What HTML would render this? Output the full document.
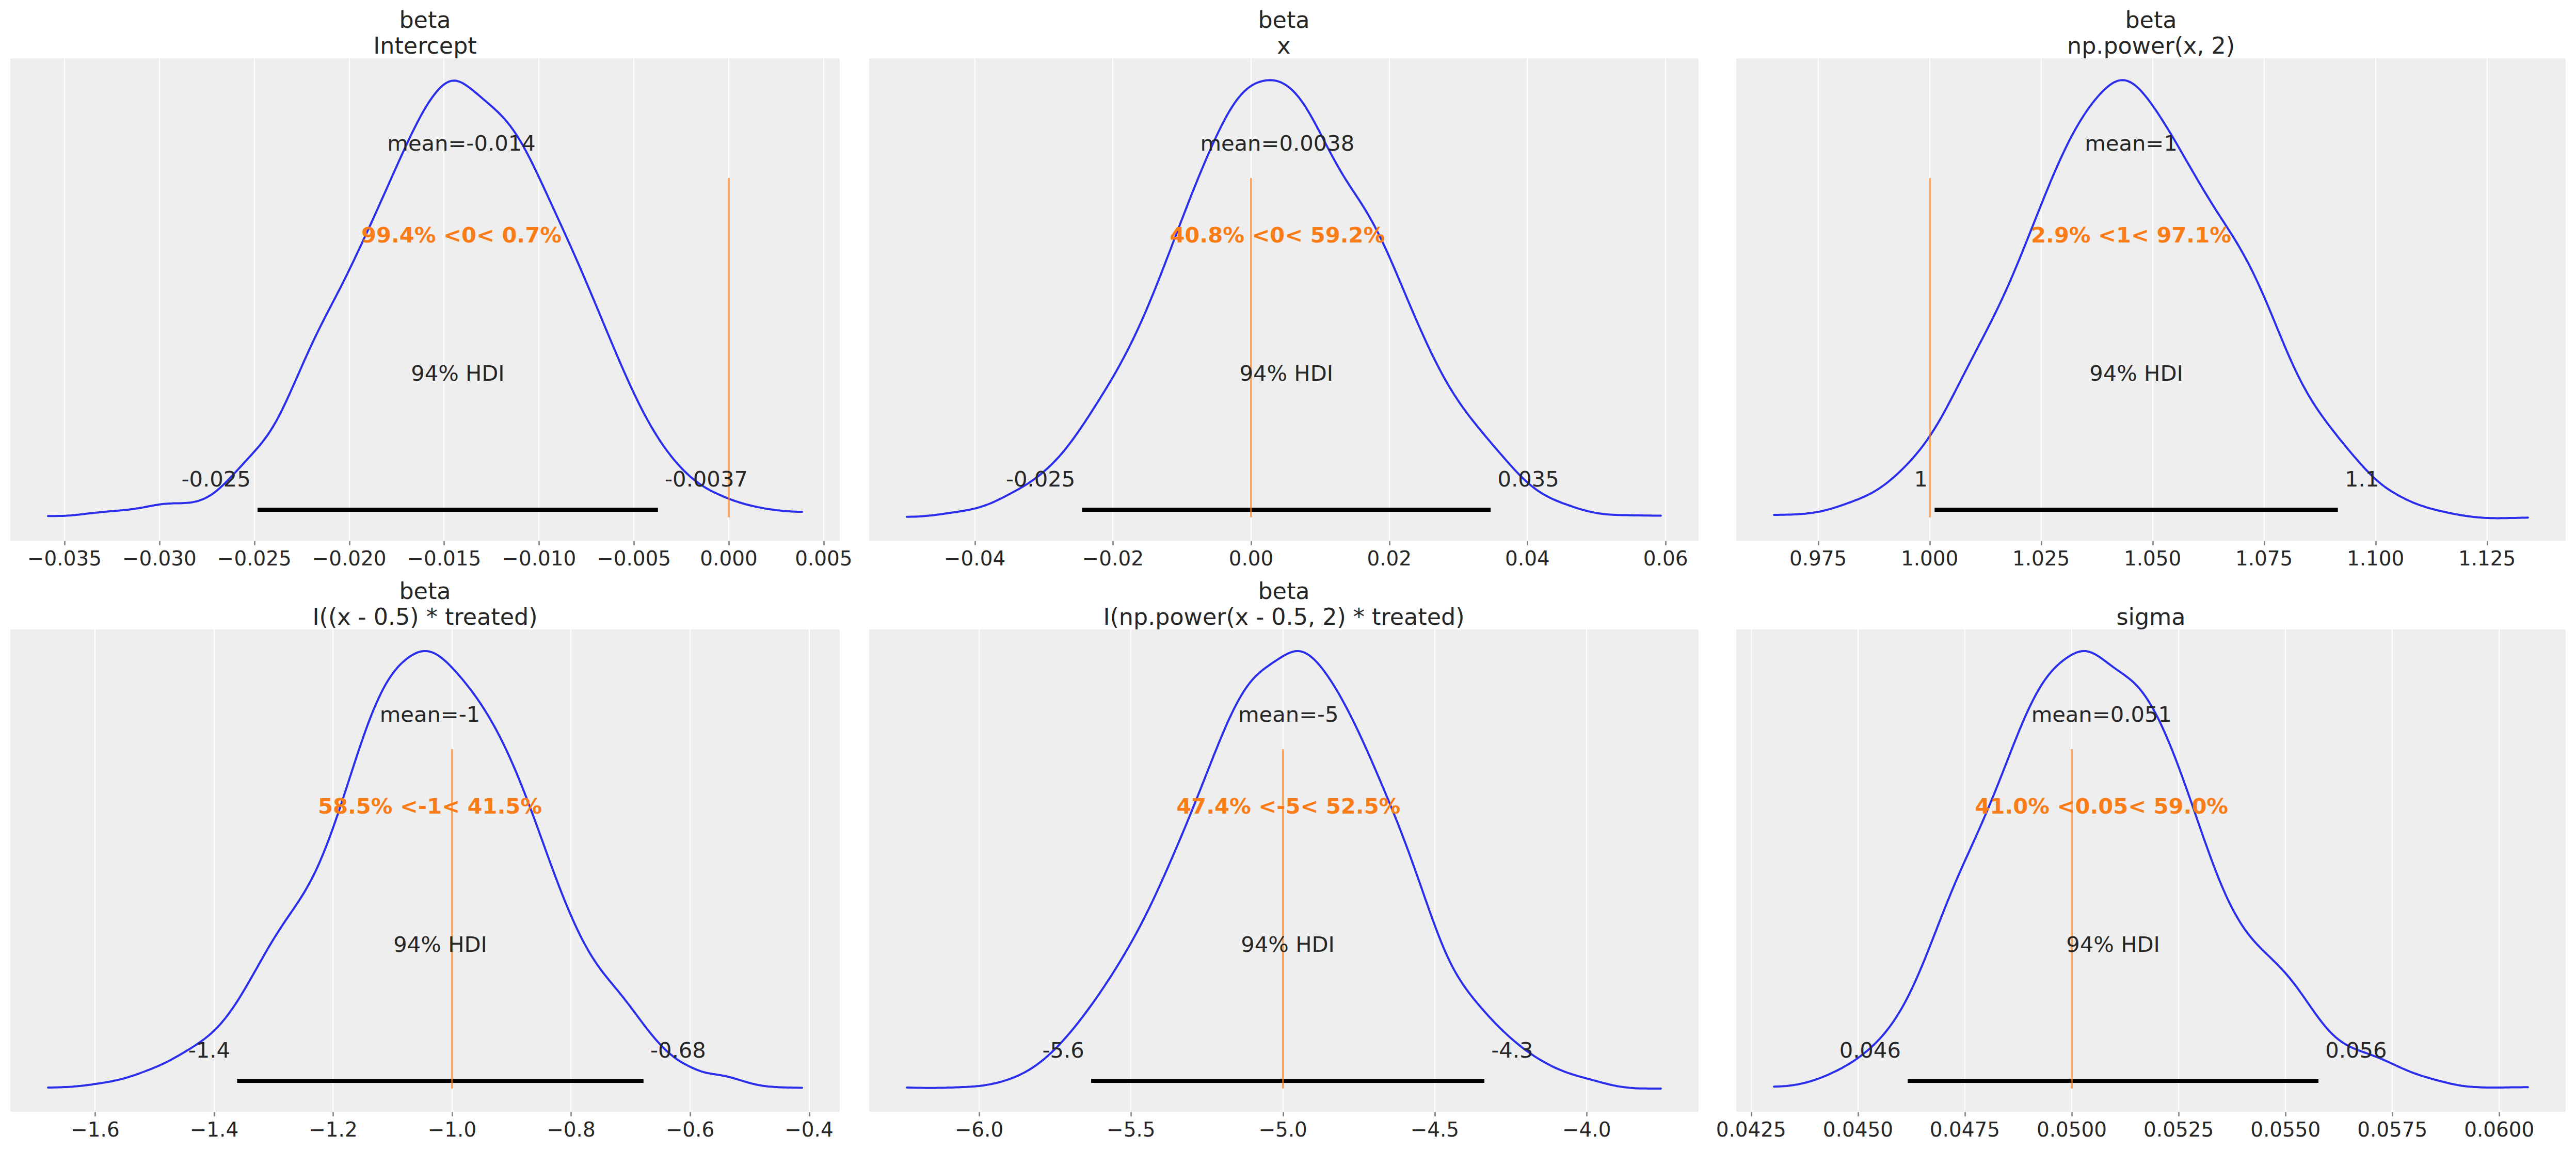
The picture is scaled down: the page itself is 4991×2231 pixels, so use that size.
<!DOCTYPE html>
<html lang="en"><head><meta charset="utf-8"><title>Posterior plots</title>
<style>
html,body{margin:0;padding:0;background:#fff}
body{width:4991px;height:2231px;overflow:hidden}
svg{display:block}
text{font-family:"DejaVu Sans","Liberation Sans",sans-serif;fill:#262626}
.t{font-size:44.4px;text-anchor:middle}
.k{font-size:38.9px;text-anchor:middle}
.m{font-size:41.67px;text-anchor:middle}
.r{font-size:41.67px;text-anchor:middle;font-weight:bold;fill:#fa7c17}
.hl{font-size:41.67px;text-anchor:end}
.hr{font-size:41.67px;text-anchor:start}
.g{stroke:#fff;stroke-width:2.1}
.tk{stroke:#808080;stroke-width:2.6}
.c{fill:none;stroke:#2a2eec;stroke-width:4.0;stroke-linecap:round;stroke-linejoin:round}
.h{stroke:#000;stroke-width:8}
.v{stroke:#fa7c17;stroke-opacity:.65;stroke-width:4.0;stroke-linecap:round}
</style></head>
<body>
<svg width="4991" height="2231" viewBox="0 0 4991 2231">
<rect width="4991" height="2231" fill="#fff"/>

<g>
<rect x="20" y="113" width="1607" height="935" fill="#eeeeee"/>
<text class="t" x="823.5" y="103.5">Intercept</text>
<text class="t" x="823.5" y="53.8">beta</text>
<line class="g" x1="125" y1="113" x2="125" y2="1048"/>
<line class="tk" x1="125.5" y1="1048.5" x2="125.5" y2="1056.8"/>
<text class="k" x="125.0" y="1095.8">−0.035</text>
<line class="g" x1="309" y1="113" x2="309" y2="1048"/>
<line class="tk" x1="309.5" y1="1048.5" x2="309.5" y2="1056.8"/>
<text class="k" x="308.9" y="1095.8">−0.030</text>
<line class="g" x1="493" y1="113" x2="493" y2="1048"/>
<line class="tk" x1="493.5" y1="1048.5" x2="493.5" y2="1056.8"/>
<text class="k" x="492.8" y="1095.8">−0.025</text>
<line class="g" x1="677" y1="113" x2="677" y2="1048"/>
<line class="tk" x1="677.5" y1="1048.5" x2="677.5" y2="1056.8"/>
<text class="k" x="676.6" y="1095.8">−0.020</text>
<line class="g" x1="860" y1="113" x2="860" y2="1048"/>
<line class="tk" x1="860.5" y1="1048.5" x2="860.5" y2="1056.8"/>
<text class="k" x="860.4" y="1095.8">−0.015</text>
<line class="g" x1="1044" y1="113" x2="1044" y2="1048"/>
<line class="tk" x1="1044.5" y1="1048.5" x2="1044.5" y2="1056.8"/>
<text class="k" x="1044.3" y="1095.8">−0.010</text>
<line class="g" x1="1228" y1="113" x2="1228" y2="1048"/>
<line class="tk" x1="1228.5" y1="1048.5" x2="1228.5" y2="1056.8"/>
<text class="k" x="1228.1" y="1095.8">−0.005</text>
<line class="g" x1="1412" y1="113" x2="1412" y2="1048"/>
<line class="tk" x1="1412.5" y1="1048.5" x2="1412.5" y2="1056.8"/>
<text class="k" x="1412.0" y="1095.8">0.000</text>
<line class="g" x1="1596" y1="113" x2="1596" y2="1048"/>
<line class="tk" x1="1596.5" y1="1048.5" x2="1596.5" y2="1056.8"/>
<text class="k" x="1595.8" y="1095.8">0.005</text>
<path class="c" d="M93.0 1000.2 L97.0 1000.2 L101.0 1000.2 L105.0 1000.2 L109.0 1000.2 L113.0 1000.1 L117.0 1000.0 L121.0 999.9 L125.0 999.7 L129.1 999.5 L133.1 999.2 L137.1 998.9 L141.1 998.5 L145.1 998.2 L149.1 997.8 L153.1 997.4 L157.1 996.9 L161.1 996.5 L165.1 996.0 L169.1 995.6 L173.1 995.1 L177.1 994.7 L181.1 994.2 L185.1 993.8 L189.1 993.4 L193.1 993.0 L197.1 992.6 L201.1 992.2 L205.1 991.8 L209.1 991.4 L213.1 991.1 L217.1 990.7 L221.1 990.4 L225.1 990.0 L229.1 989.7 L233.1 989.3 L237.1 989.0 L241.1 988.6 L245.1 988.2 L249.1 987.8 L253.1 987.3 L257.1 986.8 L261.1 986.2 L265.1 985.6 L269.1 985.0 L273.1 984.3 L277.1 983.6 L281.1 982.8 L285.1 982.0 L289.1 981.2 L293.1 980.5 L297.1 979.7 L301.1 979.0 L305.1 978.4 L309.1 977.8 L313.1 977.3 L317.1 976.8 L321.1 976.5 L325.1 976.2 L329.1 975.9 L333.1 975.8 L337.1 975.6 L341.1 975.5 L345.1 975.5 L349.1 975.4 L353.1 975.2 L357.1 975.0 L361.1 974.8 L365.1 974.4 L369.1 974.0 L373.1 973.4 L377.1 972.6 L381.1 971.7 L385.1 970.6 L389.1 969.2 L393.1 967.7 L397.1 965.9 L401.1 963.8 L405.1 961.6 L409.1 959.1 L413.1 956.3 L417.1 953.3 L421.1 950.1 L425.1 946.7 L429.1 943.1 L433.1 939.4 L437.1 935.4 L441.1 931.4 L445.1 927.2 L449.1 923.0 L453.1 918.7 L457.1 914.3 L461.1 910.0 L465.1 905.6 L469.1 901.3 L473.1 896.9 L477.1 892.5 L481.1 888.2 L485.1 883.8 L489.1 879.4 L493.1 874.9 L497.1 870.4 L501.1 865.8 L505.1 861.0 L509.1 856.0 L513.0 850.8 L517.0 845.3 L521.0 839.5 L525.0 833.4 L529.0 826.9 L533.0 820.1 L537.0 812.9 L541.0 805.3 L545.0 797.5 L549.0 789.3 L553.0 780.9 L557.0 772.4 L561.0 763.6 L565.0 754.7 L569.0 745.7 L573.0 736.7 L577.0 727.6 L581.0 718.5 L585.0 709.5 L589.0 700.4 L593.0 691.5 L597.0 682.7 L601.0 673.9 L605.0 665.3 L609.0 656.9 L613.0 648.6 L617.0 640.4 L621.0 632.3 L625.0 624.3 L629.0 616.5 L633.0 608.7 L637.0 601.0 L641.0 593.3 L645.0 585.6 L649.0 578.0 L653.0 570.2 L657.0 562.5 L661.0 554.6 L665.0 546.7 L669.0 538.7 L673.0 530.6 L677.0 522.4 L681.0 514.1 L685.0 505.8 L689.0 497.4 L693.0 488.9 L697.0 480.4 L701.0 471.8 L705.0 463.2 L709.0 454.5 L713.0 445.8 L717.0 437.1 L721.0 428.3 L725.0 419.5 L729.0 410.6 L733.0 401.7 L737.0 392.8 L741.0 383.9 L745.0 375.0 L749.0 366.0 L753.0 357.0 L757.0 348.0 L761.0 339.0 L765.0 330.1 L769.0 321.2 L773.0 312.3 L777.0 303.4 L781.0 294.7 L785.0 286.0 L789.0 277.4 L793.0 268.9 L797.0 260.5 L801.0 252.3 L805.0 244.3 L809.0 236.5 L813.0 228.9 L817.0 221.5 L821.0 214.5 L825.0 207.7 L829.0 201.2 L833.0 195.1 L837.0 189.3 L841.0 183.9 L845.0 178.8 L849.0 174.1 L853.0 169.9 L857.0 166.2 L861.0 163.1 L865.0 160.5 L869.0 158.5 L873.0 157.1 L877.0 156.4 L881.0 156.3 L885.0 156.8 L889.0 157.9 L893.0 159.5 L897.0 161.6 L901.0 163.9 L905.0 166.6 L909.0 169.5 L913.0 172.6 L917.0 175.8 L921.0 179.1 L925.0 182.4 L929.0 185.8 L933.0 189.2 L937.0 192.7 L941.0 196.1 L945.0 199.5 L949.0 203.0 L953.0 206.5 L957.0 210.1 L961.0 213.8 L965.0 217.5 L969.0 221.5 L973.0 225.6 L977.0 230.0 L981.0 234.6 L985.0 239.5 L989.0 244.6 L993.0 250.1 L997.0 255.8 L1001.0 261.9 L1005.0 268.3 L1009.0 274.9 L1013.0 281.8 L1017.0 289.0 L1021.0 296.5 L1025.0 304.1 L1029.0 312.0 L1033.0 320.0 L1037.0 328.3 L1041.0 336.6 L1045.0 345.1 L1049.0 353.6 L1053.0 362.2 L1057.0 370.9 L1061.0 379.6 L1065.0 388.3 L1069.0 397.0 L1073.0 405.7 L1077.0 414.4 L1081.0 423.2 L1085.0 431.9 L1089.0 440.7 L1093.0 449.4 L1097.0 458.3 L1101.0 467.1 L1105.0 476.0 L1109.0 485.0 L1113.0 494.0 L1117.0 503.1 L1121.0 512.2 L1125.0 521.4 L1129.0 530.7 L1133.0 540.1 L1137.0 549.5 L1141.0 558.9 L1145.0 568.4 L1149.0 577.9 L1153.0 587.5 L1157.0 597.0 L1161.0 606.6 L1165.0 616.2 L1169.0 625.8 L1173.0 635.4 L1177.0 645.0 L1181.0 654.5 L1185.0 664.1 L1189.0 673.5 L1193.0 683.0 L1197.0 692.3 L1201.0 701.6 L1205.0 710.8 L1209.0 720.0 L1213.0 729.0 L1217.0 737.9 L1221.0 746.7 L1225.0 755.3 L1229.0 763.8 L1233.0 772.1 L1237.0 780.3 L1241.0 788.3 L1245.0 796.1 L1249.0 803.7 L1253.0 811.1 L1257.0 818.4 L1261.0 825.4 L1265.0 832.2 L1269.0 838.9 L1273.0 845.3 L1277.0 851.6 L1281.0 857.6 L1285.0 863.5 L1289.0 869.2 L1293.0 874.6 L1297.0 879.9 L1301.0 885.0 L1305.0 890.0 L1309.0 894.7 L1313.0 899.3 L1317.0 903.7 L1321.0 908.0 L1325.0 912.1 L1329.0 916.0 L1333.0 919.8 L1337.0 923.4 L1341.0 926.8 L1345.0 930.1 L1349.0 933.2 L1353.0 936.2 L1357.0 939.0 L1361.0 941.6 L1365.0 944.1 L1369.0 946.5 L1373.0 948.8 L1377.0 950.9 L1381.0 953.0 L1385.0 954.9 L1389.0 956.8 L1393.0 958.6 L1397.0 960.3 L1401.0 962.1 L1405.0 963.8 L1409.0 965.4 L1413.0 967.0 L1417.0 968.6 L1421.0 970.0 L1425.0 971.4 L1429.0 972.7 L1433.0 974.0 L1437.0 975.2 L1441.0 976.3 L1445.0 977.5 L1449.0 978.5 L1453.0 979.5 L1457.0 980.5 L1461.0 981.4 L1465.0 982.3 L1469.0 983.1 L1473.0 983.9 L1477.0 984.7 L1481.0 985.4 L1485.0 986.0 L1489.0 986.7 L1493.0 987.3 L1497.0 987.8 L1501.0 988.4 L1505.0 988.9 L1509.0 989.3 L1513.0 989.8 L1517.0 990.2 L1521.0 990.5 L1525.0 990.8 L1529.0 991.1 L1533.0 991.4 L1537.0 991.6 L1541.0 991.7 L1545.0 991.9 L1549.0 992.0 L1553.0 992.1 L1554.0 992.1"/>
<line class="h" x1="499.0" y1="988.0" x2="1274.8" y2="988.0"/>
<line class="v" x1="1412.0" y1="346.8" x2="1412.0" y2="1001.2"/>
<text class="m" x="894.0" y="292.0">mean=-0.014</text>
<text class="r" x="894.0" y="470.0">99.4% &lt;0&lt; 0.7%</text>
<text class="m" x="886.9" y="738.0">94% HDI</text>
<text class="hl" x="485.7" y="942.7">-0.025</text>
<text class="hr" x="1288.1" y="942.7">-0.0037</text>
</g>
<g>
<rect x="1684" y="113" width="1607" height="935" fill="#eeeeee"/>
<text class="t" x="2487.5" y="103.5">x</text>
<text class="t" x="2487.5" y="53.8">beta</text>
<line class="g" x1="1889" y1="113" x2="1889" y2="1048"/>
<line class="tk" x1="1889.5" y1="1048.5" x2="1889.5" y2="1056.8"/>
<text class="k" x="1888.6" y="1095.8">−0.04</text>
<line class="g" x1="2156" y1="113" x2="2156" y2="1048"/>
<line class="tk" x1="2156.5" y1="1048.5" x2="2156.5" y2="1056.8"/>
<text class="k" x="2156.3" y="1095.8">−0.02</text>
<line class="g" x1="2424" y1="113" x2="2424" y2="1048"/>
<line class="tk" x1="2424.5" y1="1048.5" x2="2424.5" y2="1056.8"/>
<text class="k" x="2424.0" y="1095.8">0.00</text>
<line class="g" x1="2692" y1="113" x2="2692" y2="1048"/>
<line class="tk" x1="2692.5" y1="1048.5" x2="2692.5" y2="1056.8"/>
<text class="k" x="2691.7" y="1095.8">0.02</text>
<line class="g" x1="2959" y1="113" x2="2959" y2="1048"/>
<line class="tk" x1="2959.5" y1="1048.5" x2="2959.5" y2="1056.8"/>
<text class="k" x="2959.4" y="1095.8">0.04</text>
<line class="g" x1="3227" y1="113" x2="3227" y2="1048"/>
<line class="tk" x1="3227.5" y1="1048.5" x2="3227.5" y2="1056.8"/>
<text class="k" x="3227.1" y="1095.8">0.06</text>
<path class="c" d="M1757.0 1001.8 L1761.0 1001.7 L1765.0 1001.6 L1769.0 1001.5 L1773.0 1001.4 L1777.0 1001.2 L1781.0 1001.0 L1785.0 1000.7 L1789.0 1000.4 L1793.0 1000.1 L1797.0 999.7 L1801.0 999.3 L1805.0 998.9 L1809.0 998.4 L1813.0 997.9 L1817.0 997.4 L1821.0 996.9 L1825.0 996.4 L1829.0 995.8 L1833.0 995.2 L1837.0 994.7 L1841.0 994.1 L1845.0 993.5 L1849.0 992.9 L1853.0 992.4 L1857.0 991.7 L1861.0 991.1 L1865.0 990.5 L1869.0 989.8 L1873.0 989.0 L1877.0 988.3 L1881.0 987.4 L1885.0 986.5 L1889.0 985.6 L1893.0 984.5 L1897.0 983.4 L1901.0 982.2 L1905.0 980.9 L1909.0 979.5 L1913.0 978.0 L1917.0 976.5 L1921.0 974.8 L1925.0 973.1 L1929.0 971.3 L1933.0 969.4 L1937.0 967.4 L1941.0 965.5 L1945.0 963.4 L1949.0 961.3 L1953.0 959.2 L1957.0 957.1 L1961.0 955.0 L1965.0 952.8 L1969.0 950.6 L1973.0 948.4 L1977.0 946.1 L1981.0 943.8 L1985.0 941.4 L1989.0 938.9 L1993.0 936.4 L1997.0 933.7 L2001.0 930.9 L2005.0 927.9 L2009.0 924.9 L2013.0 921.8 L2017.0 918.6 L2021.0 915.3 L2025.0 911.8 L2029.0 908.2 L2033.0 904.5 L2037.0 900.7 L2041.0 896.7 L2045.0 892.5 L2049.1 888.2 L2053.1 883.8 L2057.1 879.1 L2061.1 874.4 L2065.1 869.4 L2069.1 864.3 L2073.1 859.1 L2077.1 853.8 L2081.1 848.3 L2085.1 842.7 L2089.1 837.0 L2093.1 831.1 L2097.1 825.2 L2101.1 819.3 L2105.1 813.2 L2109.1 807.1 L2113.1 800.9 L2117.1 794.6 L2121.1 788.4 L2125.1 782.0 L2129.1 775.7 L2133.1 769.3 L2137.1 762.8 L2141.1 756.3 L2145.1 749.7 L2149.1 743.0 L2153.1 736.3 L2157.1 729.4 L2161.1 722.5 L2165.1 715.4 L2169.1 708.2 L2173.1 700.9 L2177.1 693.4 L2181.1 685.8 L2185.1 678.1 L2189.1 670.2 L2193.1 662.1 L2197.1 653.8 L2201.1 645.4 L2205.1 636.8 L2209.1 628.0 L2213.1 619.1 L2217.1 610.0 L2221.1 600.7 L2225.1 591.3 L2229.1 581.7 L2233.1 572.0 L2237.1 562.2 L2241.1 552.2 L2245.1 542.1 L2249.1 531.9 L2253.1 521.6 L2257.1 511.2 L2261.1 500.8 L2265.1 490.4 L2269.1 479.9 L2273.1 469.4 L2277.1 458.9 L2281.1 448.4 L2285.1 437.9 L2289.1 427.4 L2293.1 417.1 L2297.1 406.7 L2301.1 396.5 L2305.1 386.3 L2309.1 376.1 L2313.1 366.1 L2317.1 356.2 L2321.1 346.3 L2325.1 336.6 L2329.1 327.0 L2333.1 317.4 L2337.1 308.0 L2341.1 298.8 L2345.1 289.7 L2349.1 280.7 L2353.1 271.9 L2357.1 263.3 L2361.1 255.0 L2365.1 246.8 L2369.1 238.9 L2373.1 231.3 L2377.1 224.0 L2381.1 217.1 L2385.1 210.4 L2389.1 204.2 L2393.1 198.3 L2397.1 192.8 L2401.1 187.7 L2405.1 183.0 L2409.1 178.8 L2413.1 175.0 L2417.1 171.5 L2421.1 168.5 L2425.1 165.8 L2429.1 163.5 L2433.1 161.5 L2437.1 159.9 L2441.1 158.5 L2445.1 157.4 L2449.1 156.5 L2453.1 155.8 L2457.1 155.5 L2461.1 155.3 L2465.1 155.5 L2469.1 156.0 L2473.1 156.8 L2477.1 157.9 L2481.1 159.4 L2485.1 161.2 L2489.1 163.4 L2493.1 166.0 L2497.1 168.9 L2501.1 172.3 L2505.1 176.0 L2509.1 180.1 L2513.1 184.7 L2517.1 189.6 L2521.1 195.0 L2525.1 200.6 L2529.1 206.7 L2533.1 213.1 L2537.1 219.7 L2541.1 226.7 L2545.1 233.8 L2549.1 241.2 L2553.1 248.7 L2557.1 256.3 L2561.1 264.1 L2565.1 271.8 L2569.1 279.6 L2573.1 287.3 L2577.1 294.9 L2581.1 302.4 L2585.1 309.8 L2589.1 317.0 L2593.1 324.1 L2597.1 331.0 L2601.1 337.7 L2605.1 344.2 L2609.1 350.6 L2613.1 356.9 L2617.1 363.1 L2621.1 369.2 L2625.1 375.2 L2629.1 381.3 L2633.1 387.4 L2637.1 393.6 L2641.1 400.0 L2645.1 406.4 L2649.1 413.1 L2653.1 419.9 L2657.1 427.0 L2661.1 434.3 L2665.1 441.9 L2669.1 449.6 L2673.1 457.6 L2677.1 465.9 L2681.1 474.3 L2685.1 482.9 L2689.1 491.7 L2693.1 500.7 L2697.1 509.8 L2701.1 519.1 L2705.1 528.4 L2709.1 537.8 L2713.1 547.3 L2717.1 556.8 L2721.1 566.3 L2725.1 575.8 L2729.1 585.2 L2733.1 594.6 L2737.1 603.9 L2741.1 613.2 L2745.1 622.4 L2749.1 631.5 L2753.1 640.5 L2757.1 649.4 L2761.1 658.2 L2765.1 666.9 L2769.1 675.4 L2773.1 683.8 L2777.1 692.0 L2781.1 700.0 L2785.1 707.9 L2789.1 715.6 L2793.1 723.1 L2797.1 730.5 L2801.1 737.6 L2805.1 744.5 L2809.1 751.3 L2813.1 757.9 L2817.1 764.2 L2821.1 770.4 L2825.1 776.5 L2829.1 782.3 L2833.1 788.1 L2837.1 793.6 L2841.1 799.1 L2845.1 804.4 L2849.1 809.6 L2853.1 814.8 L2857.1 819.8 L2861.1 824.8 L2865.1 829.7 L2869.1 834.6 L2873.1 839.4 L2877.1 844.2 L2881.1 849.0 L2885.1 853.7 L2889.1 858.5 L2893.1 863.2 L2897.1 867.9 L2901.1 872.5 L2905.1 877.2 L2909.1 881.8 L2913.1 886.4 L2917.1 891.0 L2921.1 895.5 L2925.1 900.0 L2929.1 904.5 L2933.1 908.9 L2937.1 913.2 L2941.1 917.4 L2945.1 921.5 L2949.1 925.5 L2953.1 929.3 L2957.1 933.0 L2961.1 936.6 L2965.1 940.0 L2969.1 943.3 L2973.1 946.3 L2977.1 949.3 L2981.1 952.1 L2985.1 954.7 L2989.1 957.2 L2993.1 959.5 L2997.1 961.7 L3001.1 963.8 L3005.1 965.8 L3009.1 967.7 L3013.1 969.4 L3017.1 971.1 L3021.1 972.7 L3025.1 974.3 L3029.1 975.8 L3033.1 977.2 L3037.1 978.7 L3041.1 980.0 L3045.1 981.4 L3049.1 982.8 L3053.1 984.1 L3057.1 985.4 L3061.1 986.6 L3065.1 987.8 L3069.1 988.9 L3073.1 990.0 L3077.1 991.0 L3081.1 991.9 L3085.1 992.8 L3089.1 993.6 L3093.1 994.3 L3097.1 995.0 L3101.1 995.6 L3105.1 996.1 L3109.1 996.5 L3113.1 996.9 L3117.1 997.3 L3121.1 997.5 L3125.1 997.7 L3129.1 997.9 L3133.1 998.1 L3137.1 998.2 L3141.1 998.3 L3145.1 998.4 L3149.1 998.5 L3153.1 998.6 L3157.1 998.7 L3161.1 998.8 L3165.1 998.9 L3169.1 998.9 L3173.1 999.0 L3177.1 999.1 L3181.1 999.1 L3185.1 999.2 L3189.1 999.2 L3193.1 999.3 L3197.1 999.3 L3201.1 999.4 L3205.1 999.4 L3209.1 999.5 L3213.1 999.5 L3217.1 999.6 L3217.9 999.6"/>
<line class="h" x1="2096.6" y1="988.0" x2="2888.1" y2="988.0"/>
<line class="v" x1="2424.0" y1="346.8" x2="2424.0" y2="1001.2"/>
<text class="m" x="2474.8" y="292.0">mean=0.0038</text>
<text class="r" x="2474.8" y="470.0">40.8% &lt;0&lt; 59.2%</text>
<text class="m" x="2492.3" y="738.0">94% HDI</text>
<text class="hl" x="2083.3" y="942.7">-0.025</text>
<text class="hr" x="2901.4" y="942.7">0.035</text>
</g>
<g>
<rect x="3364" y="113" width="1607" height="935" fill="#eeeeee"/>
<text class="t" x="4167.5" y="103.5">np.power(x, 2)</text>
<text class="t" x="4167.5" y="53.8">beta</text>
<line class="g" x1="3523" y1="113" x2="3523" y2="1048"/>
<line class="tk" x1="3523.5" y1="1048.5" x2="3523.5" y2="1056.8"/>
<text class="k" x="3522.6" y="1095.8">0.975</text>
<line class="g" x1="3739" y1="113" x2="3739" y2="1048"/>
<line class="tk" x1="3739.5" y1="1048.5" x2="3739.5" y2="1056.8"/>
<text class="k" x="3738.6" y="1095.8">1.000</text>
<line class="g" x1="3955" y1="113" x2="3955" y2="1048"/>
<line class="tk" x1="3955.5" y1="1048.5" x2="3955.5" y2="1056.8"/>
<text class="k" x="3954.6" y="1095.8">1.025</text>
<line class="g" x1="4171" y1="113" x2="4171" y2="1048"/>
<line class="tk" x1="4171.5" y1="1048.5" x2="4171.5" y2="1056.8"/>
<text class="k" x="4170.6" y="1095.8">1.050</text>
<line class="g" x1="4387" y1="113" x2="4387" y2="1048"/>
<line class="tk" x1="4387.5" y1="1048.5" x2="4387.5" y2="1056.8"/>
<text class="k" x="4386.6" y="1095.8">1.075</text>
<line class="g" x1="4603" y1="113" x2="4603" y2="1048"/>
<line class="tk" x1="4603.5" y1="1048.5" x2="4603.5" y2="1056.8"/>
<text class="k" x="4602.6" y="1095.8">1.100</text>
<line class="g" x1="4819" y1="113" x2="4819" y2="1048"/>
<line class="tk" x1="4819.5" y1="1048.5" x2="4819.5" y2="1056.8"/>
<text class="k" x="4818.6" y="1095.8">1.125</text>
<path class="c" d="M3437.1 997.9 L3441.1 997.9 L3445.1 997.9 L3449.1 997.8 L3453.1 997.8 L3457.1 997.7 L3461.1 997.6 L3465.1 997.5 L3469.1 997.4 L3473.1 997.2 L3477.1 997.1 L3481.1 996.9 L3485.1 996.6 L3489.1 996.3 L3493.1 996.0 L3497.1 995.7 L3501.1 995.3 L3505.1 994.8 L3509.1 994.3 L3513.1 993.7 L3517.1 993.1 L3521.1 992.4 L3525.1 991.7 L3529.1 990.8 L3533.1 989.9 L3537.1 989.0 L3541.1 987.9 L3545.1 986.9 L3549.1 985.7 L3553.1 984.5 L3557.1 983.2 L3561.1 981.9 L3565.1 980.6 L3569.1 979.2 L3573.1 977.8 L3577.1 976.4 L3581.1 974.9 L3585.1 973.5 L3589.1 972.0 L3593.1 970.4 L3597.1 968.9 L3601.1 967.3 L3605.1 965.6 L3609.1 963.9 L3613.1 962.1 L3617.1 960.3 L3621.1 958.3 L3625.1 956.2 L3629.1 954.0 L3633.1 951.6 L3637.1 949.2 L3641.1 946.6 L3645.1 943.9 L3649.1 941.0 L3653.1 938.1 L3657.1 935.0 L3661.1 931.7 L3665.1 928.4 L3669.1 925.0 L3673.1 921.4 L3677.1 917.7 L3681.1 914.0 L3685.1 910.1 L3689.1 906.1 L3693.1 902.1 L3697.1 897.9 L3701.1 893.6 L3705.1 889.1 L3709.1 884.6 L3713.1 879.8 L3717.1 875.0 L3721.1 869.9 L3725.1 864.7 L3729.1 859.4 L3733.1 853.8 L3737.1 848.0 L3741.1 842.1 L3745.1 835.9 L3749.1 829.6 L3753.1 823.0 L3757.1 816.2 L3761.1 809.2 L3765.1 802.1 L3769.1 794.8 L3773.1 787.4 L3777.1 779.8 L3781.1 772.2 L3785.1 764.5 L3789.1 756.7 L3793.1 748.9 L3797.1 741.1 L3801.1 733.2 L3805.1 725.4 L3809.1 717.6 L3813.1 709.8 L3817.1 702.1 L3821.1 694.3 L3825.1 686.6 L3829.1 678.9 L3833.1 671.2 L3837.1 663.5 L3841.1 655.8 L3845.1 648.1 L3849.1 640.3 L3853.1 632.5 L3857.1 624.6 L3861.1 616.6 L3865.1 608.5 L3869.1 600.3 L3873.1 592.0 L3877.1 583.6 L3881.1 575.0 L3885.1 566.2 L3889.1 557.4 L3893.1 548.3 L3897.1 539.1 L3901.1 529.7 L3905.1 520.3 L3909.1 510.7 L3913.1 501.0 L3917.1 491.2 L3921.1 481.3 L3925.1 471.3 L3929.1 461.3 L3933.1 451.2 L3937.1 441.2 L3941.1 431.1 L3945.1 421.0 L3949.1 410.9 L3953.1 400.9 L3957.1 390.9 L3961.1 381.0 L3965.1 371.2 L3969.1 361.5 L3973.1 351.8 L3977.1 342.4 L3981.1 333.0 L3985.1 323.9 L3989.1 314.9 L3993.1 306.1 L3997.1 297.5 L4001.1 289.1 L4005.1 280.9 L4009.1 272.9 L4013.1 265.2 L4017.1 257.7 L4021.1 250.5 L4025.1 243.5 L4029.1 236.8 L4033.1 230.3 L4037.1 224.0 L4041.1 218.0 L4045.1 212.2 L4049.1 206.6 L4053.1 201.3 L4057.1 196.1 L4061.1 191.2 L4065.1 186.5 L4069.1 182.0 L4073.1 177.8 L4077.1 173.9 L4081.1 170.2 L4085.1 166.9 L4089.1 163.9 L4093.1 161.3 L4097.1 159.1 L4101.1 157.4 L4105.1 156.1 L4109.1 155.4 L4113.1 155.2 L4117.1 155.6 L4121.1 156.6 L4125.1 158.1 L4129.1 160.1 L4133.1 162.7 L4137.1 165.7 L4141.1 169.1 L4145.1 172.9 L4149.1 177.1 L4153.1 181.7 L4157.1 186.5 L4161.1 191.6 L4165.1 196.9 L4169.1 202.4 L4173.1 208.1 L4177.1 213.9 L4181.1 219.9 L4185.1 226.0 L4189.1 232.2 L4193.1 238.6 L4197.1 245.0 L4201.1 251.5 L4205.1 258.1 L4209.1 264.8 L4213.1 271.5 L4217.1 278.3 L4221.1 285.2 L4225.1 292.0 L4229.1 299.0 L4233.1 305.9 L4237.1 312.9 L4241.1 319.8 L4245.1 326.8 L4249.1 333.7 L4253.1 340.6 L4257.1 347.4 L4261.1 354.2 L4265.1 361.0 L4269.1 367.7 L4273.1 374.4 L4277.1 380.9 L4281.1 387.4 L4285.1 393.9 L4289.1 400.3 L4293.1 406.6 L4297.1 412.8 L4301.1 419.0 L4305.1 425.2 L4309.1 431.4 L4313.1 437.6 L4317.1 443.8 L4321.1 450.1 L4325.1 456.4 L4329.1 462.9 L4333.1 469.4 L4337.1 476.1 L4341.1 483.0 L4345.1 490.0 L4349.1 497.2 L4353.1 504.7 L4357.1 512.3 L4361.1 520.2 L4365.1 528.2 L4369.1 536.5 L4373.1 545.0 L4377.1 553.7 L4381.1 562.6 L4385.1 571.7 L4389.1 580.9 L4393.1 590.3 L4397.1 599.8 L4401.1 609.3 L4405.1 619.0 L4409.1 628.7 L4413.1 638.4 L4417.1 648.1 L4421.1 657.7 L4425.1 667.3 L4429.1 676.7 L4433.1 686.0 L4437.1 695.1 L4441.1 704.0 L4445.1 712.7 L4449.1 721.1 L4453.1 729.3 L4457.1 737.2 L4461.1 744.9 L4465.1 752.3 L4469.1 759.5 L4473.1 766.4 L4477.1 773.1 L4481.1 779.6 L4485.1 785.8 L4489.1 791.9 L4493.1 797.8 L4497.1 803.6 L4501.1 809.2 L4505.1 814.7 L4509.1 820.1 L4513.1 825.4 L4517.1 830.6 L4521.1 835.7 L4525.1 840.8 L4529.1 845.9 L4533.1 850.9 L4537.1 855.8 L4541.1 860.7 L4545.1 865.6 L4549.1 870.5 L4553.1 875.2 L4557.1 880.0 L4561.1 884.7 L4565.1 889.3 L4569.1 893.9 L4573.1 898.5 L4577.1 902.9 L4581.1 907.3 L4585.1 911.5 L4589.1 915.7 L4593.1 919.7 L4597.1 923.6 L4601.1 927.4 L4605.1 931.0 L4609.1 934.5 L4613.1 937.8 L4617.1 941.0 L4621.1 944.0 L4625.1 946.8 L4629.1 949.5 L4633.1 952.1 L4637.1 954.5 L4641.1 956.9 L4645.1 959.2 L4649.1 961.4 L4653.1 963.5 L4657.1 965.6 L4661.1 967.6 L4665.1 969.5 L4669.1 971.3 L4673.1 973.1 L4677.1 974.8 L4681.1 976.4 L4685.1 977.9 L4689.1 979.3 L4693.1 980.7 L4697.1 982.0 L4701.1 983.3 L4705.1 984.5 L4709.1 985.6 L4713.1 986.7 L4717.1 987.7 L4721.1 988.7 L4725.1 989.7 L4729.1 990.6 L4733.1 991.5 L4737.1 992.4 L4741.1 993.3 L4745.1 994.2 L4749.1 995.0 L4753.1 995.8 L4757.1 996.6 L4761.1 997.3 L4765.1 998.0 L4769.1 998.7 L4773.1 999.3 L4777.1 1000.0 L4781.1 1000.5 L4785.1 1001.1 L4789.1 1001.6 L4793.1 1002.0 L4797.1 1002.4 L4801.1 1002.8 L4805.1 1003.1 L4809.1 1003.4 L4813.1 1003.7 L4817.1 1003.9 L4821.1 1004.0 L4825.1 1004.2 L4829.1 1004.3 L4833.1 1004.3 L4837.1 1004.4 L4841.1 1004.4 L4845.1 1004.3 L4849.1 1004.3 L4853.1 1004.2 L4857.1 1004.2 L4861.1 1004.1 L4865.1 1004.0 L4869.1 1004.0 L4873.1 1003.9 L4877.1 1003.8 L4881.1 1003.7 L4885.1 1003.6 L4889.1 1003.5 L4893.1 1003.4 L4897.1 1003.3 L4897.9 1003.3"/>
<line class="h" x1="3748.3" y1="988.0" x2="4529.6" y2="988.0"/>
<line class="v" x1="3739.0" y1="346.8" x2="3739.0" y2="1001.2"/>
<text class="m" x="4129.0" y="292.0">mean=1</text>
<text class="r" x="4129.0" y="470.0">2.9% &lt;1&lt; 97.1%</text>
<text class="m" x="4139.0" y="738.0">94% HDI</text>
<text class="hl" x="3735.0" y="942.7">1</text>
<text class="hr" x="4542.9" y="942.7">1.1</text>
</g>
<g>
<rect x="20" y="1220" width="1607" height="935" fill="#eeeeee"/>
<text class="t" x="823.5" y="1210.5">I((x - 0.5) * treated)</text>
<text class="t" x="823.5" y="1160.8">beta</text>
<line class="g" x1="184" y1="1220" x2="184" y2="2155"/>
<line class="tk" x1="184.5" y1="2155.5" x2="184.5" y2="2163.8"/>
<text class="k" x="184.5" y="2202.8">−1.6</text>
<line class="g" x1="415" y1="1220" x2="415" y2="2155"/>
<line class="tk" x1="415.5" y1="2155.5" x2="415.5" y2="2163.8"/>
<text class="k" x="415.0" y="2202.8">−1.4</text>
<line class="g" x1="645" y1="1220" x2="645" y2="2155"/>
<line class="tk" x1="645.5" y1="2155.5" x2="645.5" y2="2163.8"/>
<text class="k" x="645.5" y="2202.8">−1.2</text>
<line class="g" x1="876" y1="1220" x2="876" y2="2155"/>
<line class="tk" x1="876.5" y1="2155.5" x2="876.5" y2="2163.8"/>
<text class="k" x="876.0" y="2202.8">−1.0</text>
<line class="g" x1="1106" y1="1220" x2="1106" y2="2155"/>
<line class="tk" x1="1106.5" y1="2155.5" x2="1106.5" y2="2163.8"/>
<text class="k" x="1106.5" y="2202.8">−0.8</text>
<line class="g" x1="1337" y1="1220" x2="1337" y2="2155"/>
<line class="tk" x1="1337.5" y1="2155.5" x2="1337.5" y2="2163.8"/>
<text class="k" x="1337.0" y="2202.8">−0.6</text>
<line class="g" x1="1568" y1="1220" x2="1568" y2="2155"/>
<line class="tk" x1="1568.5" y1="2155.5" x2="1568.5" y2="2163.8"/>
<text class="k" x="1567.5" y="2202.8">−0.4</text>
<path class="c" d="M93.0 2108.0 L97.0 2108.0 L101.0 2107.9 L105.0 2107.8 L109.0 2107.7 L113.0 2107.6 L117.0 2107.5 L121.0 2107.3 L125.0 2107.1 L129.1 2106.9 L133.1 2106.7 L137.1 2106.5 L141.1 2106.2 L145.1 2105.8 L149.1 2105.5 L153.1 2105.1 L157.1 2104.7 L161.1 2104.2 L165.1 2103.8 L169.1 2103.2 L173.1 2102.7 L177.1 2102.2 L181.1 2101.6 L185.1 2101.0 L189.1 2100.4 L193.1 2099.8 L197.1 2099.2 L201.1 2098.6 L205.1 2097.9 L209.1 2097.2 L213.1 2096.5 L217.1 2095.7 L221.1 2094.8 L225.1 2094.0 L229.1 2093.1 L233.1 2092.1 L237.1 2091.1 L241.1 2090.0 L245.1 2088.9 L249.1 2087.7 L253.1 2086.4 L257.1 2085.1 L261.1 2083.8 L265.1 2082.4 L269.1 2081.0 L273.1 2079.5 L277.1 2078.0 L281.1 2076.5 L285.1 2074.9 L289.1 2073.4 L293.1 2071.8 L297.1 2070.2 L301.1 2068.5 L305.1 2066.8 L309.1 2065.1 L313.1 2063.3 L317.1 2061.4 L321.1 2059.5 L325.1 2057.5 L329.1 2055.4 L333.1 2053.3 L337.1 2051.1 L341.1 2048.8 L345.1 2046.5 L349.1 2044.2 L353.1 2041.8 L357.1 2039.5 L361.1 2037.0 L365.1 2034.6 L369.1 2032.2 L373.1 2029.6 L377.1 2027.1 L381.1 2024.5 L385.1 2021.7 L389.1 2018.9 L393.1 2016.0 L397.1 2013.0 L401.1 2009.8 L405.1 2006.5 L409.1 2003.0 L413.1 1999.3 L417.1 1995.4 L421.1 1991.4 L425.1 1987.1 L429.1 1982.6 L433.1 1977.8 L437.1 1972.9 L441.1 1967.7 L445.1 1962.3 L449.1 1956.7 L453.1 1950.8 L457.1 1944.8 L461.1 1938.6 L465.1 1932.2 L469.1 1925.6 L473.1 1919.0 L477.1 1912.2 L481.1 1905.3 L485.1 1898.3 L489.1 1891.3 L493.1 1884.3 L497.1 1877.2 L501.1 1870.1 L505.1 1863.0 L509.1 1856.0 L513.0 1849.1 L517.0 1842.2 L521.0 1835.3 L525.0 1828.6 L529.0 1822.0 L533.0 1815.5 L537.0 1809.1 L541.0 1802.9 L545.0 1796.7 L549.0 1790.7 L553.0 1784.7 L557.0 1778.8 L561.0 1773.0 L565.0 1767.1 L569.0 1761.3 L573.0 1755.3 L577.0 1749.3 L581.0 1743.2 L585.0 1736.9 L589.0 1730.4 L593.0 1723.6 L597.0 1716.5 L601.0 1709.2 L605.0 1701.5 L609.0 1693.5 L613.0 1685.1 L617.0 1676.4 L621.0 1667.3 L625.0 1657.8 L629.0 1648.0 L633.0 1637.8 L637.0 1627.3 L641.0 1616.5 L645.0 1605.4 L649.0 1594.0 L653.0 1582.4 L657.0 1570.6 L661.0 1558.6 L665.0 1546.5 L669.0 1534.2 L673.0 1521.9 L677.0 1509.5 L681.0 1497.2 L685.0 1484.9 L689.0 1472.7 L693.0 1460.6 L697.0 1448.7 L701.0 1436.9 L705.0 1425.4 L709.0 1414.2 L713.0 1403.3 L717.0 1392.8 L721.0 1382.6 L725.0 1372.8 L729.0 1363.5 L733.0 1354.6 L737.0 1346.1 L741.0 1338.1 L745.0 1330.6 L749.0 1323.6 L753.0 1317.0 L757.0 1310.9 L761.0 1305.3 L765.0 1300.0 L769.0 1295.2 L773.0 1290.7 L777.0 1286.6 L781.0 1282.9 L785.0 1279.4 L789.0 1276.2 L793.0 1273.3 L797.0 1270.7 L801.0 1268.4 L805.0 1266.4 L809.0 1264.7 L813.0 1263.4 L817.0 1262.5 L821.0 1262.0 L825.0 1261.9 L829.0 1262.3 L833.0 1263.1 L837.0 1264.3 L841.0 1266.0 L845.0 1268.1 L849.0 1270.5 L853.0 1273.3 L857.0 1276.4 L861.0 1279.7 L865.0 1283.3 L869.0 1287.1 L873.0 1291.1 L877.0 1295.3 L881.0 1299.6 L885.0 1304.0 L889.0 1308.6 L893.0 1313.2 L897.0 1318.0 L901.0 1322.9 L905.0 1327.9 L909.0 1333.1 L913.0 1338.3 L917.0 1343.7 L921.0 1349.2 L925.0 1354.9 L929.0 1360.7 L933.0 1366.7 L937.0 1372.9 L941.0 1379.2 L945.0 1385.8 L949.0 1392.5 L953.0 1399.4 L957.0 1406.5 L961.0 1413.8 L965.0 1421.4 L969.0 1429.1 L973.0 1437.1 L977.0 1445.3 L981.0 1453.7 L985.0 1462.3 L989.0 1471.1 L993.0 1480.2 L997.0 1489.4 L1001.0 1498.9 L1005.0 1508.6 L1009.0 1518.4 L1013.0 1528.4 L1017.0 1538.7 L1021.0 1549.0 L1025.0 1559.6 L1029.0 1570.2 L1033.0 1581.0 L1037.0 1591.9 L1041.0 1602.8 L1045.0 1613.9 L1049.0 1624.9 L1053.0 1636.0 L1057.0 1647.1 L1061.0 1658.1 L1065.0 1669.1 L1069.0 1680.0 L1073.0 1690.9 L1077.0 1701.5 L1081.0 1712.1 L1085.0 1722.5 L1089.0 1732.7 L1093.0 1742.7 L1097.0 1752.6 L1101.0 1762.2 L1105.0 1771.6 L1109.0 1780.7 L1113.0 1789.6 L1117.0 1798.3 L1121.0 1806.6 L1125.0 1814.8 L1129.0 1822.6 L1133.0 1830.1 L1137.0 1837.4 L1141.0 1844.4 L1145.0 1851.1 L1149.0 1857.5 L1153.0 1863.7 L1157.0 1869.6 L1161.0 1875.2 L1165.0 1880.7 L1169.0 1886.0 L1173.0 1891.1 L1177.0 1896.1 L1181.0 1901.0 L1185.0 1905.8 L1189.0 1910.7 L1193.0 1915.5 L1197.0 1920.3 L1201.0 1925.3 L1205.0 1930.2 L1209.0 1935.3 L1213.0 1940.4 L1217.0 1945.6 L1221.0 1950.8 L1225.0 1956.2 L1229.0 1961.5 L1233.0 1966.9 L1237.0 1972.2 L1241.0 1977.6 L1245.0 1982.9 L1249.0 1988.2 L1253.0 1993.4 L1257.0 1998.5 L1261.0 2003.5 L1265.0 2008.3 L1269.0 2013.1 L1273.0 2017.7 L1277.0 2022.1 L1281.0 2026.4 L1285.0 2030.5 L1289.0 2034.5 L1293.0 2038.2 L1297.0 2041.8 L1301.0 2045.1 L1305.0 2048.3 L1309.0 2051.3 L1313.0 2054.1 L1317.0 2056.7 L1321.0 2059.2 L1325.0 2061.5 L1329.0 2063.6 L1333.0 2065.7 L1337.0 2067.7 L1341.0 2069.6 L1345.0 2071.4 L1349.0 2073.1 L1353.0 2074.7 L1357.0 2076.2 L1361.0 2077.4 L1365.0 2078.5 L1369.0 2079.5 L1373.0 2080.3 L1377.0 2081.0 L1381.0 2081.7 L1385.0 2082.3 L1389.0 2082.9 L1393.0 2083.6 L1397.0 2084.3 L1401.0 2085.0 L1405.0 2085.8 L1409.0 2086.7 L1413.0 2087.6 L1417.0 2088.7 L1421.0 2089.8 L1425.0 2091.0 L1429.0 2092.2 L1433.0 2093.4 L1437.0 2094.6 L1441.0 2095.8 L1445.0 2097.0 L1449.0 2098.2 L1453.0 2099.3 L1457.0 2100.4 L1461.0 2101.3 L1465.0 2102.2 L1469.0 2103.1 L1473.0 2103.8 L1477.0 2104.5 L1481.0 2105.0 L1485.0 2105.5 L1489.0 2106.0 L1493.0 2106.3 L1497.0 2106.6 L1501.0 2106.9 L1505.0 2107.1 L1509.0 2107.4 L1513.0 2107.5 L1517.0 2107.7 L1521.0 2107.8 L1525.0 2107.9 L1529.0 2108.0 L1533.0 2108.1 L1537.0 2108.2 L1541.0 2108.3 L1545.0 2108.3 L1549.0 2108.4 L1553.0 2108.4 L1554.0 2108.4"/>
<line class="h" x1="459.4" y1="2095.0" x2="1246.8" y2="2095.0"/>
<line class="v" x1="876.0" y1="1453.8" x2="876.0" y2="2108.2"/>
<text class="m" x="833.0" y="1399.0">mean=-1</text>
<text class="r" x="833.0" y="1577.0">58.5% &lt;-1&lt; 41.5%</text>
<text class="m" x="853.1" y="1845.0">94% HDI</text>
<text class="hl" x="446.1" y="2049.7">-1.4</text>
<text class="hr" x="1260.1" y="2049.7">-0.68</text>
</g>
<g>
<rect x="1684" y="1220" width="1607" height="935" fill="#eeeeee"/>
<text class="t" x="2487.5" y="1210.5">I(np.power(x - 0.5, 2) * treated)</text>
<text class="t" x="2487.5" y="1160.8">beta</text>
<line class="g" x1="1897" y1="1220" x2="1897" y2="2155"/>
<line class="tk" x1="1897.5" y1="2155.5" x2="1897.5" y2="2163.8"/>
<text class="k" x="1897.0" y="2202.8">−6.0</text>
<line class="g" x1="2191" y1="1220" x2="2191" y2="2155"/>
<line class="tk" x1="2191.5" y1="2155.5" x2="2191.5" y2="2163.8"/>
<text class="k" x="2191.3" y="2202.8">−5.5</text>
<line class="g" x1="2486" y1="1220" x2="2486" y2="2155"/>
<line class="tk" x1="2486.5" y1="2155.5" x2="2486.5" y2="2163.8"/>
<text class="k" x="2485.6" y="2202.8">−5.0</text>
<line class="g" x1="2780" y1="1220" x2="2780" y2="2155"/>
<line class="tk" x1="2780.5" y1="2155.5" x2="2780.5" y2="2163.8"/>
<text class="k" x="2779.9" y="2202.8">−4.5</text>
<line class="g" x1="3074" y1="1220" x2="3074" y2="2155"/>
<line class="tk" x1="3074.5" y1="2155.5" x2="3074.5" y2="2163.8"/>
<text class="k" x="3074.2" y="2202.8">−4.0</text>
<path class="c" d="M1757.0 2108.0 L1761.0 2108.1 L1765.0 2108.2 L1769.0 2108.3 L1773.0 2108.4 L1777.0 2108.5 L1781.0 2108.6 L1785.0 2108.6 L1789.0 2108.7 L1793.0 2108.7 L1797.0 2108.8 L1801.0 2108.8 L1805.0 2108.8 L1809.0 2108.8 L1813.0 2108.7 L1817.0 2108.6 L1821.0 2108.6 L1825.0 2108.5 L1829.0 2108.4 L1833.0 2108.3 L1837.0 2108.1 L1841.0 2108.0 L1845.0 2107.9 L1849.0 2107.7 L1853.0 2107.6 L1857.0 2107.5 L1861.0 2107.3 L1865.0 2107.1 L1869.0 2107.0 L1873.0 2106.8 L1877.0 2106.5 L1881.0 2106.3 L1885.0 2106.0 L1889.0 2105.7 L1893.0 2105.3 L1897.0 2104.9 L1901.0 2104.4 L1905.0 2103.9 L1909.0 2103.3 L1913.0 2102.6 L1917.0 2101.9 L1921.0 2101.2 L1925.0 2100.3 L1929.0 2099.5 L1933.0 2098.5 L1937.0 2097.5 L1941.0 2096.4 L1945.0 2095.2 L1949.0 2093.9 L1953.0 2092.6 L1957.0 2091.2 L1961.0 2089.7 L1965.0 2088.1 L1969.0 2086.4 L1973.0 2084.6 L1977.0 2082.7 L1981.0 2080.7 L1985.0 2078.7 L1989.0 2076.5 L1993.0 2074.2 L1997.0 2071.7 L2001.0 2069.2 L2005.0 2066.5 L2009.0 2063.7 L2013.0 2060.7 L2017.0 2057.6 L2021.0 2054.4 L2025.0 2051.0 L2029.0 2047.6 L2033.0 2043.9 L2037.0 2040.2 L2041.0 2036.3 L2045.0 2032.4 L2049.1 2028.3 L2053.1 2024.1 L2057.1 2019.8 L2061.1 2015.4 L2065.1 2010.9 L2069.1 2006.3 L2073.1 2001.6 L2077.1 1996.8 L2081.1 1991.9 L2085.1 1987.0 L2089.1 1981.9 L2093.1 1976.8 L2097.1 1971.6 L2101.1 1966.3 L2105.1 1961.0 L2109.1 1955.5 L2113.1 1950.0 L2117.1 1944.5 L2121.1 1938.8 L2125.1 1933.1 L2129.1 1927.3 L2133.1 1921.4 L2137.1 1915.5 L2141.1 1909.5 L2145.1 1903.4 L2149.1 1897.3 L2153.1 1891.1 L2157.1 1884.8 L2161.1 1878.4 L2165.1 1872.0 L2169.1 1865.4 L2173.1 1858.8 L2177.1 1852.1 L2181.1 1845.3 L2185.1 1838.4 L2189.1 1831.4 L2193.1 1824.3 L2197.1 1817.1 L2201.1 1809.8 L2205.1 1802.3 L2209.1 1794.8 L2213.1 1787.0 L2217.1 1779.2 L2221.1 1771.2 L2225.1 1763.1 L2229.1 1754.9 L2233.1 1746.5 L2237.1 1738.1 L2241.1 1729.5 L2245.1 1720.8 L2249.1 1712.0 L2253.1 1703.1 L2257.1 1694.2 L2261.1 1685.1 L2265.1 1676.0 L2269.1 1666.8 L2273.1 1657.6 L2277.1 1648.3 L2281.1 1639.0 L2285.1 1629.5 L2289.1 1620.1 L2293.1 1610.5 L2297.1 1600.9 L2301.1 1591.2 L2305.1 1581.5 L2309.1 1571.7 L2313.1 1561.8 L2317.1 1551.8 L2321.1 1541.8 L2325.1 1531.7 L2329.1 1521.6 L2333.1 1511.5 L2337.1 1501.3 L2341.1 1491.1 L2345.1 1481.0 L2349.1 1470.9 L2353.1 1460.8 L2357.1 1450.9 L2361.1 1441.0 L2365.1 1431.3 L2369.1 1421.8 L2373.1 1412.4 L2377.1 1403.3 L2381.1 1394.4 L2385.1 1385.8 L2389.1 1377.5 L2393.1 1369.5 L2397.1 1361.9 L2401.1 1354.6 L2405.1 1347.7 L2409.1 1341.2 L2413.1 1335.1 L2417.1 1329.4 L2421.1 1324.1 L2425.1 1319.2 L2429.1 1314.7 L2433.1 1310.5 L2437.1 1306.7 L2441.1 1303.1 L2445.1 1299.8 L2449.1 1296.6 L2453.1 1293.6 L2457.1 1290.8 L2461.1 1288.0 L2465.1 1285.2 L2469.1 1282.5 L2473.1 1279.9 L2477.1 1277.3 L2481.1 1274.7 L2485.1 1272.3 L2489.1 1270.0 L2493.1 1267.9 L2497.1 1266.0 L2501.1 1264.4 L2505.1 1263.1 L2509.1 1262.3 L2513.1 1261.9 L2517.1 1262.1 L2521.1 1262.8 L2525.1 1264.0 L2529.1 1265.7 L2533.1 1267.9 L2537.1 1270.6 L2541.1 1273.7 L2545.1 1277.2 L2549.1 1281.2 L2553.1 1285.4 L2557.1 1290.0 L2561.1 1294.9 L2565.1 1300.1 L2569.1 1305.6 L2573.1 1311.3 L2577.1 1317.3 L2581.1 1323.5 L2585.1 1329.9 L2589.1 1336.5 L2593.1 1343.3 L2597.1 1350.3 L2601.1 1357.4 L2605.1 1364.8 L2609.1 1372.3 L2613.1 1380.0 L2617.1 1387.8 L2621.1 1395.8 L2625.1 1404.0 L2629.1 1412.3 L2633.1 1420.7 L2637.1 1429.3 L2641.1 1438.0 L2645.1 1446.8 L2649.1 1455.7 L2653.1 1464.7 L2657.1 1473.8 L2661.1 1483.0 L2665.1 1492.3 L2669.1 1501.6 L2673.1 1510.9 L2677.1 1520.4 L2681.1 1529.8 L2685.1 1539.4 L2689.1 1549.0 L2693.1 1558.6 L2697.1 1568.4 L2701.1 1578.2 L2705.1 1588.2 L2709.1 1598.3 L2713.1 1608.5 L2717.1 1618.9 L2721.1 1629.5 L2725.1 1640.1 L2729.1 1650.9 L2733.1 1661.9 L2737.1 1673.0 L2741.1 1684.1 L2745.1 1695.4 L2749.1 1706.8 L2753.1 1718.2 L2757.1 1729.7 L2761.1 1741.1 L2765.1 1752.5 L2769.1 1763.9 L2773.1 1775.1 L2777.1 1786.1 L2781.1 1796.9 L2785.1 1807.5 L2789.1 1817.8 L2793.1 1827.8 L2797.1 1837.4 L2801.1 1846.6 L2805.1 1855.4 L2809.1 1863.8 L2813.1 1871.8 L2817.1 1879.4 L2821.1 1886.6 L2825.1 1893.4 L2829.1 1899.8 L2833.1 1906.0 L2837.1 1911.8 L2841.1 1917.5 L2845.1 1922.9 L2849.1 1928.1 L2853.1 1933.2 L2857.1 1938.2 L2861.1 1943.0 L2865.1 1947.8 L2869.1 1952.5 L2873.1 1957.1 L2877.1 1961.7 L2881.1 1966.2 L2885.1 1970.6 L2889.1 1974.9 L2893.1 1979.2 L2897.1 1983.3 L2901.1 1987.4 L2905.1 1991.4 L2909.1 1995.3 L2913.1 1999.2 L2917.1 2002.9 L2921.1 2006.6 L2925.1 2010.2 L2929.1 2013.7 L2933.1 2017.2 L2937.1 2020.6 L2941.1 2023.9 L2945.1 2027.1 L2949.1 2030.3 L2953.1 2033.3 L2957.1 2036.3 L2961.1 2039.2 L2965.1 2042.0 L2969.1 2044.7 L2973.1 2047.4 L2977.1 2049.9 L2981.1 2052.4 L2985.1 2054.8 L2989.1 2057.1 L2993.1 2059.3 L2997.1 2061.5 L3001.1 2063.6 L3005.1 2065.7 L3009.1 2067.7 L3013.1 2069.6 L3017.1 2071.4 L3021.1 2073.1 L3025.1 2074.7 L3029.1 2076.3 L3033.1 2077.8 L3037.1 2079.3 L3041.1 2080.6 L3045.1 2082.0 L3049.1 2083.2 L3053.1 2084.5 L3057.1 2085.6 L3061.1 2086.8 L3065.1 2087.9 L3069.1 2089.0 L3073.1 2090.1 L3077.1 2091.2 L3081.1 2092.3 L3085.1 2093.4 L3089.1 2094.4 L3093.1 2095.5 L3097.1 2096.6 L3101.1 2097.6 L3105.1 2098.7 L3109.1 2099.7 L3113.1 2100.7 L3117.1 2101.7 L3121.1 2102.7 L3125.1 2103.6 L3129.1 2104.4 L3133.1 2105.2 L3137.1 2105.9 L3141.1 2106.5 L3145.1 2107.1 L3149.1 2107.6 L3153.1 2108.1 L3157.1 2108.5 L3161.1 2108.8 L3165.1 2109.1 L3169.1 2109.4 L3173.1 2109.5 L3177.1 2109.7 L3181.1 2109.8 L3185.1 2109.8 L3189.1 2109.8 L3193.1 2109.9 L3197.1 2109.9 L3201.1 2109.9 L3205.1 2109.9 L3209.1 2109.9 L3213.1 2109.9 L3217.1 2109.9 L3217.9 2109.9"/>
<line class="h" x1="2114.1" y1="2095.0" x2="2876.0" y2="2095.0"/>
<line class="v" x1="2486.0" y1="1453.8" x2="2486.0" y2="2108.2"/>
<text class="m" x="2496.3" y="1399.0">mean=-5</text>
<text class="r" x="2496.3" y="1577.0">47.4% &lt;-5&lt; 52.5%</text>
<text class="m" x="2495.1" y="1845.0">94% HDI</text>
<text class="hl" x="2100.8" y="2049.7">-5.6</text>
<text class="hr" x="2889.3" y="2049.7">-4.3</text>
</g>
<g>
<rect x="3364" y="1220" width="1607" height="935" fill="#eeeeee"/>
<text class="t" x="4167.5" y="1210.5">sigma</text>
<line class="g" x1="3393" y1="1220" x2="3393" y2="2155"/>
<line class="tk" x1="3393.5" y1="2155.5" x2="3393.5" y2="2163.8"/>
<text class="k" x="3392.8" y="2202.8">0.0425</text>
<line class="g" x1="3600" y1="1220" x2="3600" y2="2155"/>
<line class="tk" x1="3600.5" y1="2155.5" x2="3600.5" y2="2163.8"/>
<text class="k" x="3599.9" y="2202.8">0.0450</text>
<line class="g" x1="3807" y1="1220" x2="3807" y2="2155"/>
<line class="tk" x1="3807.5" y1="2155.5" x2="3807.5" y2="2163.8"/>
<text class="k" x="3806.9" y="2202.8">0.0475</text>
<line class="g" x1="4014" y1="1220" x2="4014" y2="2155"/>
<line class="tk" x1="4014.5" y1="2155.5" x2="4014.5" y2="2163.8"/>
<text class="k" x="4014.0" y="2202.8">0.0500</text>
<line class="g" x1="4221" y1="1220" x2="4221" y2="2155"/>
<line class="tk" x1="4221.5" y1="2155.5" x2="4221.5" y2="2163.8"/>
<text class="k" x="4221.1" y="2202.8">0.0525</text>
<line class="g" x1="4428" y1="1220" x2="4428" y2="2155"/>
<line class="tk" x1="4428.5" y1="2155.5" x2="4428.5" y2="2163.8"/>
<text class="k" x="4428.2" y="2202.8">0.0550</text>
<line class="g" x1="4635" y1="1220" x2="4635" y2="2155"/>
<line class="tk" x1="4635.5" y1="2155.5" x2="4635.5" y2="2163.8"/>
<text class="k" x="4635.2" y="2202.8">0.0575</text>
<line class="g" x1="4842" y1="1220" x2="4842" y2="2155"/>
<line class="tk" x1="4842.5" y1="2155.5" x2="4842.5" y2="2163.8"/>
<text class="k" x="4842.3" y="2202.8">0.0600</text>
<path class="c" d="M3437.1 2106.2 L3441.1 2106.0 L3445.1 2105.9 L3449.1 2105.7 L3453.1 2105.5 L3457.1 2105.2 L3461.1 2104.9 L3465.1 2104.5 L3469.1 2104.0 L3473.1 2103.5 L3477.1 2102.9 L3481.1 2102.2 L3485.1 2101.5 L3489.1 2100.6 L3493.1 2099.7 L3497.1 2098.8 L3501.1 2097.7 L3505.1 2096.6 L3509.1 2095.5 L3513.1 2094.2 L3517.1 2092.9 L3521.1 2091.5 L3525.1 2090.0 L3529.1 2088.5 L3533.1 2086.9 L3537.1 2085.3 L3541.1 2083.6 L3545.1 2081.8 L3549.1 2079.9 L3553.1 2078.0 L3557.1 2076.1 L3561.1 2074.1 L3565.1 2072.0 L3569.1 2069.9 L3573.1 2067.6 L3577.1 2065.3 L3581.1 2063.0 L3585.1 2060.5 L3589.1 2058.0 L3593.1 2055.3 L3597.1 2052.6 L3601.1 2049.7 L3605.1 2046.8 L3609.1 2043.7 L3613.1 2040.5 L3617.1 2037.2 L3621.1 2033.8 L3625.1 2030.2 L3629.1 2026.5 L3633.1 2022.7 L3637.1 2018.6 L3641.1 2014.4 L3645.1 2010.0 L3649.1 2005.4 L3653.1 2000.6 L3657.1 1995.6 L3661.1 1990.4 L3665.1 1984.9 L3669.1 1979.1 L3673.1 1973.1 L3677.1 1966.8 L3681.1 1960.3 L3685.1 1953.4 L3689.1 1946.2 L3693.1 1938.8 L3697.1 1931.0 L3701.1 1922.9 L3705.1 1914.6 L3709.1 1906.0 L3713.1 1897.1 L3717.1 1888.0 L3721.1 1878.6 L3725.1 1869.1 L3729.1 1859.4 L3733.1 1849.5 L3737.1 1839.4 L3741.1 1829.3 L3745.1 1819.1 L3749.1 1808.8 L3753.1 1798.5 L3757.1 1788.3 L3761.1 1778.0 L3765.1 1767.9 L3769.1 1757.8 L3773.1 1747.8 L3777.1 1737.9 L3781.1 1728.2 L3785.1 1718.7 L3789.1 1709.2 L3793.1 1699.9 L3797.1 1690.8 L3801.1 1681.7 L3805.1 1672.8 L3809.1 1663.9 L3813.1 1655.1 L3817.1 1646.3 L3821.1 1637.4 L3825.1 1628.6 L3829.1 1619.7 L3833.1 1610.7 L3837.1 1601.7 L3841.1 1592.6 L3845.1 1583.3 L3849.1 1573.9 L3853.1 1564.4 L3857.1 1554.8 L3861.1 1545.1 L3865.1 1535.2 L3869.1 1525.3 L3873.1 1515.2 L3877.1 1505.1 L3881.1 1494.9 L3885.1 1484.6 L3889.1 1474.4 L3893.1 1464.1 L3897.1 1453.9 L3901.1 1443.8 L3905.1 1433.8 L3909.1 1423.9 L3913.1 1414.1 L3917.1 1404.6 L3921.1 1395.2 L3925.1 1386.1 L3929.1 1377.3 L3933.1 1368.8 L3937.1 1360.6 L3941.1 1352.8 L3945.1 1345.3 L3949.1 1338.2 L3953.1 1331.4 L3957.1 1325.1 L3961.1 1319.1 L3965.1 1313.6 L3969.1 1308.3 L3973.1 1303.5 L3977.1 1298.9 L3981.1 1294.7 L3985.1 1290.8 L3989.1 1287.1 L3993.1 1283.6 L3997.1 1280.4 L4001.1 1277.4 L4005.1 1274.6 L4009.1 1272.0 L4013.1 1269.6 L4017.1 1267.5 L4021.1 1265.7 L4025.1 1264.2 L4029.1 1263.0 L4033.1 1262.3 L4037.1 1262.0 L4041.1 1262.1 L4045.1 1262.7 L4049.1 1263.8 L4053.1 1265.2 L4057.1 1267.1 L4061.1 1269.3 L4065.1 1271.7 L4069.1 1274.4 L4073.1 1277.2 L4077.1 1280.2 L4081.1 1283.2 L4085.1 1286.2 L4089.1 1289.2 L4093.1 1292.1 L4097.1 1295.0 L4101.1 1297.8 L4105.1 1300.6 L4109.1 1303.4 L4113.1 1306.2 L4117.1 1309.1 L4121.1 1312.1 L4125.1 1315.2 L4129.1 1318.5 L4133.1 1322.1 L4137.1 1326.0 L4141.1 1330.2 L4145.1 1334.7 L4149.1 1339.5 L4153.1 1344.8 L4157.1 1350.4 L4161.1 1356.4 L4165.1 1362.8 L4169.1 1369.5 L4173.1 1376.6 L4177.1 1384.1 L4181.1 1391.9 L4185.1 1400.1 L4189.1 1408.6 L4193.1 1417.4 L4197.1 1426.5 L4201.1 1435.9 L4205.1 1445.5 L4209.1 1455.5 L4213.1 1465.6 L4217.1 1476.0 L4221.1 1486.6 L4225.1 1497.4 L4229.1 1508.4 L4233.1 1519.6 L4237.1 1530.8 L4241.1 1542.2 L4245.1 1553.6 L4249.1 1565.2 L4253.1 1576.7 L4257.1 1588.3 L4261.1 1599.9 L4265.1 1611.4 L4269.1 1622.8 L4273.1 1634.1 L4277.1 1645.4 L4281.1 1656.4 L4285.1 1667.3 L4289.1 1677.9 L4293.1 1688.4 L4297.1 1698.5 L4301.1 1708.4 L4305.1 1718.0 L4309.1 1727.3 L4313.1 1736.2 L4317.1 1744.8 L4321.1 1753.0 L4325.1 1760.9 L4329.1 1768.5 L4333.1 1775.6 L4337.1 1782.5 L4341.1 1789.0 L4345.1 1795.1 L4349.1 1801.0 L4353.1 1806.5 L4357.1 1811.8 L4361.1 1816.8 L4365.1 1821.6 L4369.1 1826.1 L4373.1 1830.5 L4377.1 1834.7 L4381.1 1838.8 L4385.1 1842.8 L4389.1 1846.7 L4393.1 1850.6 L4397.1 1854.4 L4401.1 1858.3 L4405.1 1862.2 L4409.1 1866.1 L4413.1 1870.2 L4417.1 1874.3 L4421.1 1878.5 L4425.1 1882.9 L4429.1 1887.4 L4433.1 1892.1 L4437.1 1896.9 L4441.1 1901.9 L4445.1 1907.0 L4449.1 1912.3 L4453.1 1917.7 L4457.1 1923.3 L4461.1 1928.9 L4465.1 1934.6 L4469.1 1940.3 L4473.1 1946.1 L4477.1 1951.9 L4481.1 1957.6 L4485.1 1963.3 L4489.1 1968.8 L4493.1 1974.2 L4497.1 1979.5 L4501.1 1984.6 L4505.1 1989.5 L4509.1 1994.1 L4513.1 1998.6 L4517.1 2002.7 L4521.1 2006.6 L4525.1 2010.2 L4529.1 2013.6 L4533.1 2016.7 L4537.1 2019.5 L4541.1 2022.1 L4545.1 2024.5 L4549.1 2026.7 L4553.1 2028.7 L4557.1 2030.6 L4561.1 2032.4 L4565.1 2034.0 L4569.1 2035.6 L4573.1 2037.1 L4577.1 2038.6 L4581.1 2040.0 L4585.1 2041.5 L4589.1 2042.9 L4593.1 2044.4 L4597.1 2045.8 L4601.1 2047.4 L4605.1 2048.9 L4609.1 2050.5 L4613.1 2052.2 L4617.1 2053.9 L4621.1 2055.6 L4625.1 2057.4 L4629.1 2059.2 L4633.1 2061.0 L4637.1 2062.9 L4641.1 2064.7 L4645.1 2066.6 L4649.1 2068.4 L4653.1 2070.2 L4657.1 2072.0 L4661.1 2073.7 L4665.1 2075.4 L4669.1 2077.0 L4673.1 2078.6 L4677.1 2080.1 L4681.1 2081.5 L4685.1 2082.9 L4689.1 2084.3 L4693.1 2085.6 L4697.1 2086.8 L4701.1 2088.0 L4705.1 2089.2 L4709.1 2090.4 L4713.1 2091.5 L4717.1 2092.6 L4721.1 2093.7 L4725.1 2094.7 L4729.1 2095.8 L4733.1 2096.8 L4737.1 2097.8 L4741.1 2098.8 L4745.1 2099.7 L4749.1 2100.7 L4753.1 2101.5 L4757.1 2102.3 L4761.1 2103.1 L4765.1 2103.8 L4769.1 2104.4 L4773.1 2104.9 L4777.1 2105.4 L4781.1 2105.9 L4785.1 2106.3 L4789.1 2106.6 L4793.1 2106.9 L4797.1 2107.1 L4801.1 2107.3 L4805.1 2107.5 L4809.1 2107.7 L4813.1 2107.8 L4817.1 2107.9 L4821.1 2107.9 L4825.1 2108.0 L4829.1 2108.0 L4833.1 2108.0 L4837.1 2108.0 L4841.1 2107.9 L4845.1 2107.9 L4849.1 2107.9 L4853.1 2107.8 L4857.1 2107.7 L4861.1 2107.7 L4865.1 2107.6 L4869.1 2107.6 L4873.1 2107.5 L4877.1 2107.4 L4881.1 2107.4 L4885.1 2107.4 L4889.1 2107.3 L4893.1 2107.3 L4897.1 2107.2 L4897.9 2107.2"/>
<line class="h" x1="3696.2" y1="2095.0" x2="4492.0" y2="2095.0"/>
<line class="v" x1="4014.0" y1="1453.8" x2="4014.0" y2="2108.2"/>
<text class="m" x="4071.8" y="1399.0">mean=0.051</text>
<text class="r" x="4071.8" y="1577.0">41.0% &lt;0.05&lt; 59.0%</text>
<text class="m" x="4094.1" y="1845.0">94% HDI</text>
<text class="hl" x="3682.9" y="2049.7">0.046</text>
<text class="hr" x="4505.3" y="2049.7">0.056</text>
</g>
</svg>
</body></html>
